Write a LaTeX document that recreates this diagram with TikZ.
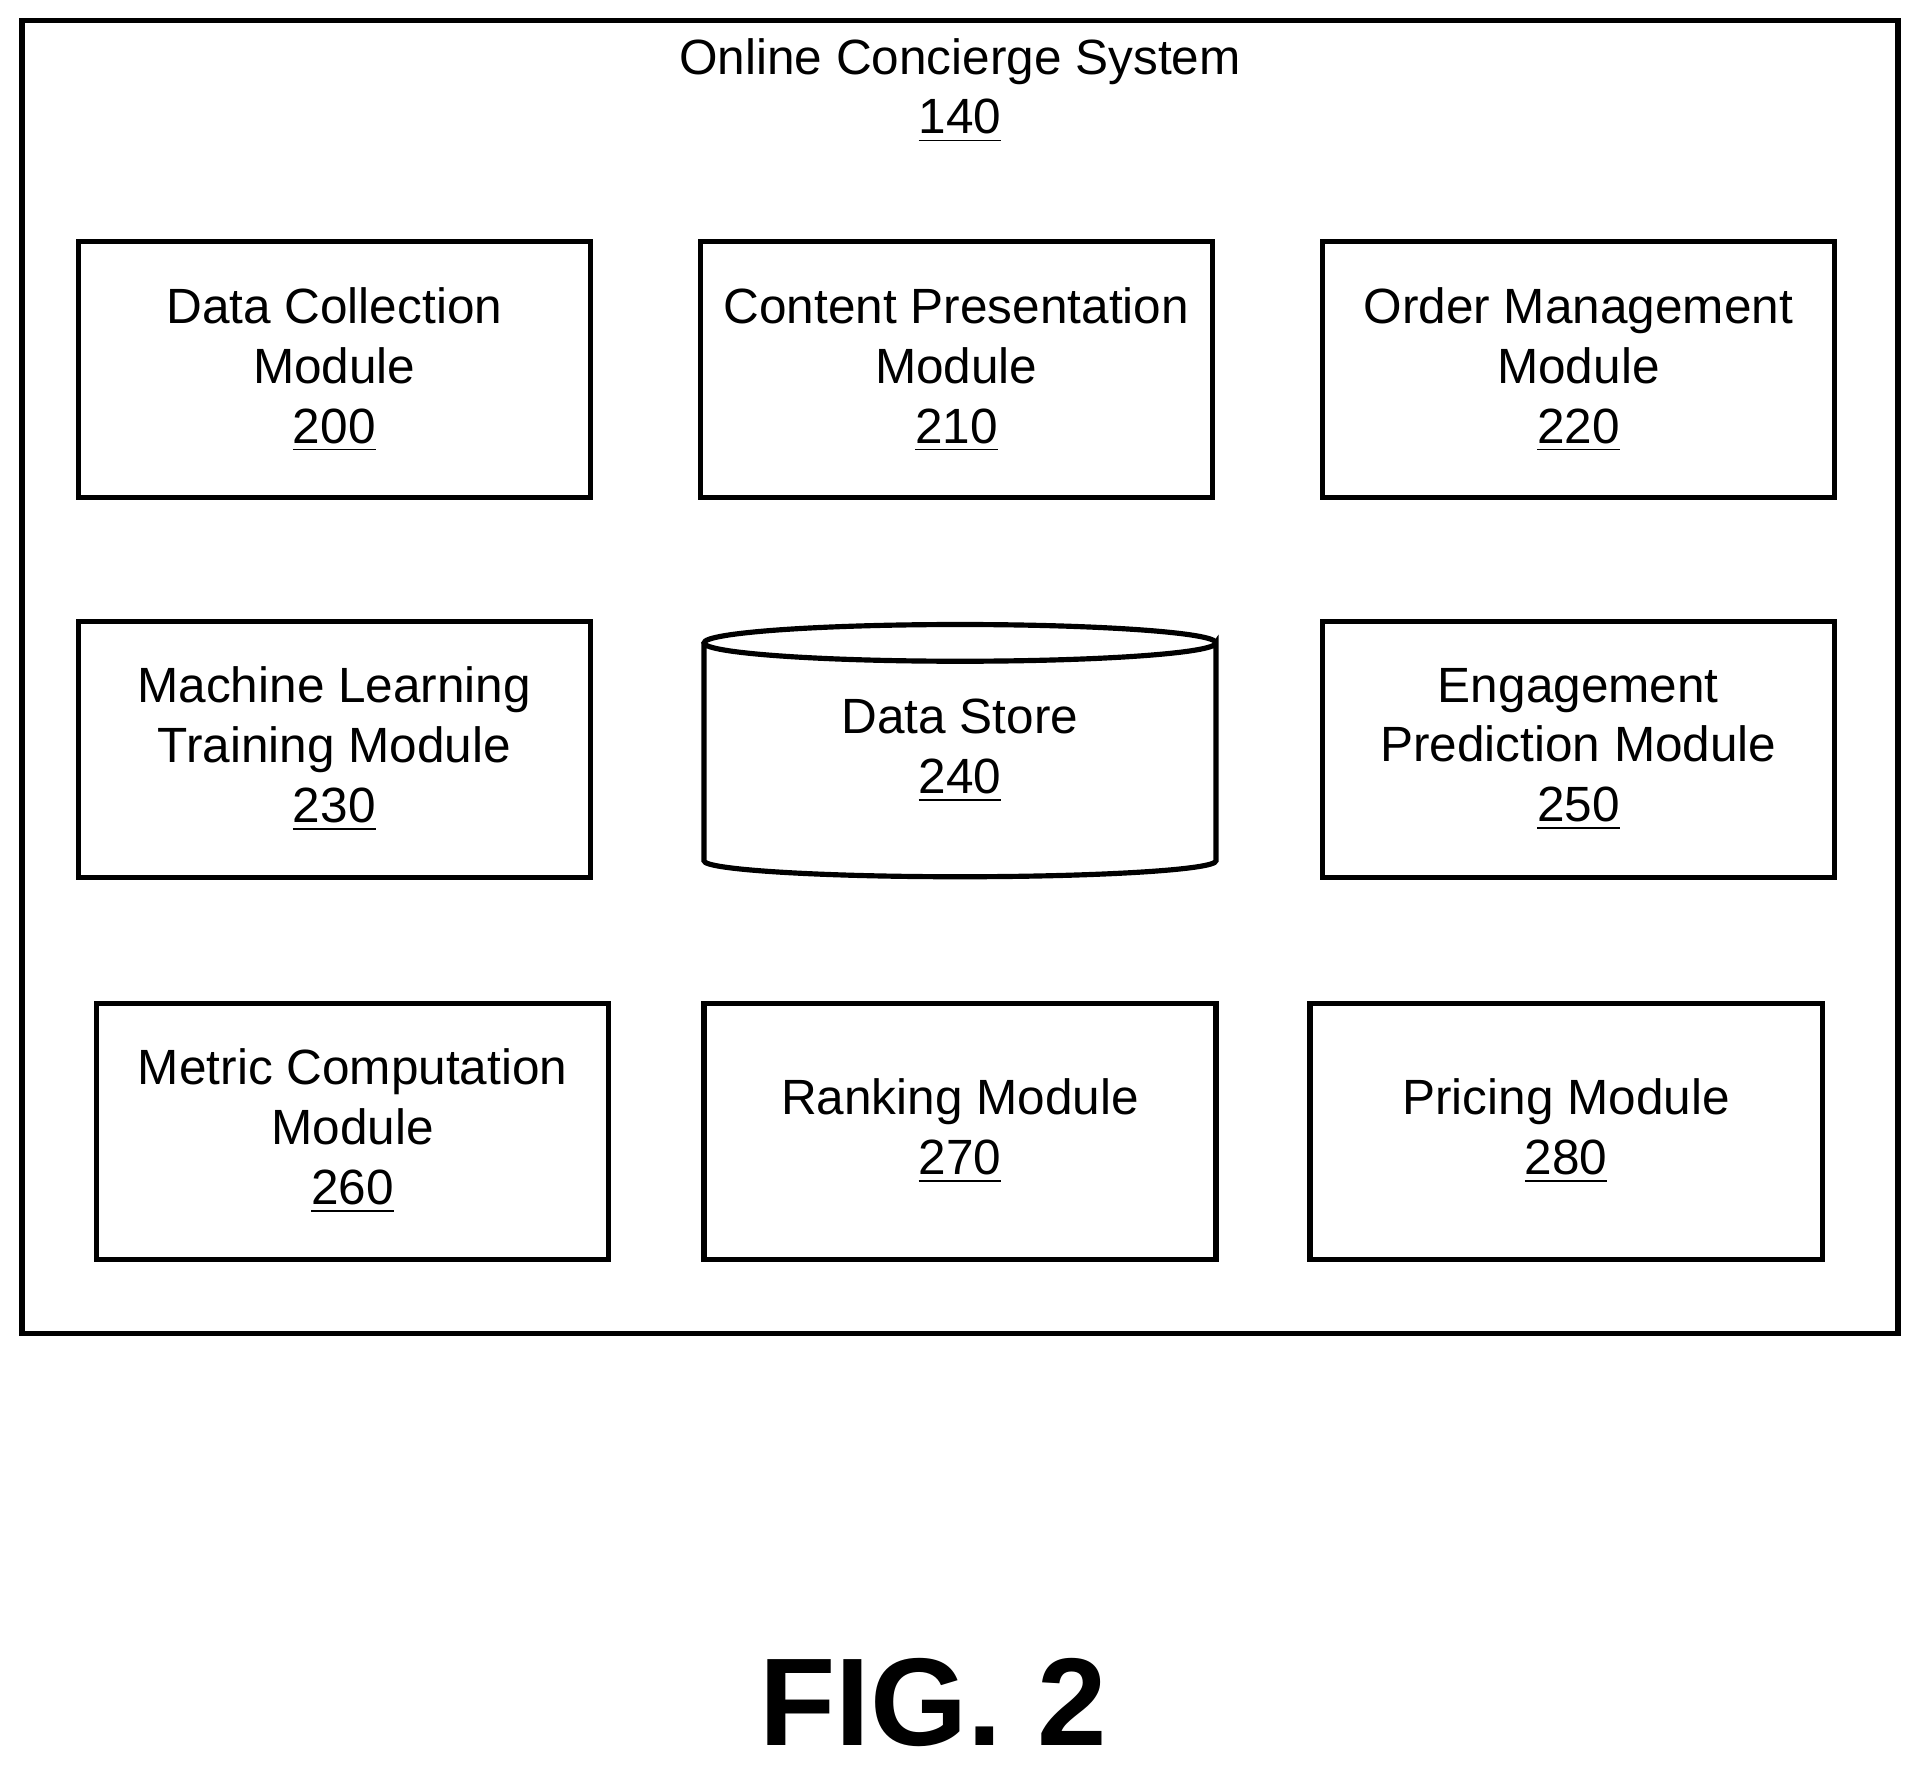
\documentclass[tikz,border=0pt]{standalone}
\usepackage{fontspec}
\setmainfont{Liberation Sans}
\usetikzlibrary{positioning}
\tikzset{
  module/.style={draw, line width=1.2pt, minimum width=4.18cm, minimum height=2.09cm, align=center, font=\fontsize{11.5}{13.9}\selectfont},
  label/.style={align=center, font=\fontsize{11.5}{13.9}\selectfont}
}
\begin{document}
\begin{tikzpicture}[x=0.01cm, y=-0.01cm]
    \useasboundingbox (0,0) rectangle (1568,1444);

    % Outer system box
    \draw[line width=1.2pt] (18,17) rectangle (1550,1089);
    \node[label] (system) at (784,74) {Online Concierge System\\\underline{140}};

    % First row
    \node[module] (collect) at (273,302) {Data Collection\\Module\\\underline{200}};
    \node[module] (present) at (781,302) {Content Presentation\\Module\\\underline{210}};
    \node[module] (order) at (1289,302) {Order Management\\Module\\\underline{220}};

    % Second row
    \node[module] (training) at (273,612) {Machine Learning\\Training Module\\\underline{230}};
    \draw[line width=1.2pt] (575,525) -- (575,703) arc[start angle=180, end angle=0, x radius=209, y radius=13]
        -- (993,525) arc[start angle=0, end angle=360, x radius=209, y radius=15];
    \node[label] (store) at (784,613) {Data Store\\\underline{240}};
    \node[module] (engage) at (1289,612) {Engagement\\Prediction Module\\\underline{250}};

    % Third row
    \node[module] (metric) at (288,924) {Metric Computation\\Module\\\underline{260}};
    \node[module] (rank) at (784,924) {Ranking Module\\\underline{270}};
    \node[module] (price) at (1279,924) {Pricing Module\\\underline{280}};

    % Figure label
    \node[font=\fontsize{29}{33}\selectfont\bfseries] (fig) at (762,1390) {FIG. 2};

\end{tikzpicture}
\end{document}
